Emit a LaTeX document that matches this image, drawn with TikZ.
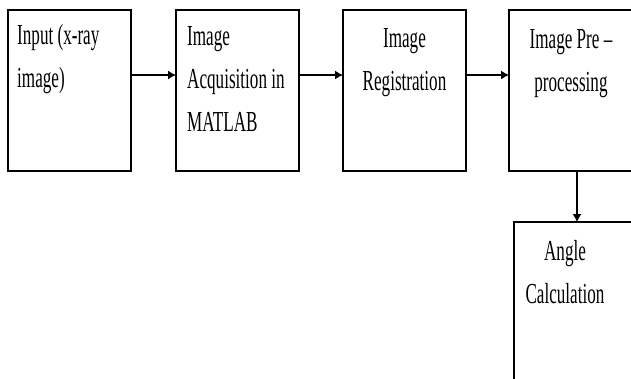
\documentclass[tikz,border=0pt]{standalone}
\usepackage{fontspec}
\setmainfont[FakeStretch=0.59]{Liberation Serif}
\usetikzlibrary{arrows.meta}

\begin{document}
\begin{tikzpicture}[x=1pt, y=-1pt,
    block/.style = {draw, line width=1.3pt, minimum width=123pt, minimum height=161pt,
                    anchor=north west, inner sep=0pt, outer sep=0pt},
    txt/.style   = {font=\fontsize{29}{43}\selectfont, inner sep=0pt},
    flow/.style  = {line width=1.3pt, -{Latex[length=8pt, width=9pt]}}]
    \clip (0,0) rectangle (631,378);
    \pgfmathsetmacro{\topY}{10}  % top edge of the first row
    \coordinate (rowmid) at (0,75);
    \coordinate (drop) at (577,0);
    % blocks
    \node[block] (input) at (8,\topY) {};
    \node[block] (acq) at (176,\topY) {};
    \node[block] (reg) at (343,\topY) {};
    \node[block] (pre) at (509,\topY) {};
    \node[block, minimum height=200pt] (angle) at (514,222) {};
    % texts (anchored on the baseline of their last line)
    \node[txt, anchor=base west, align=left] (inputtxt) at (17,87) {Input (x-ray\\image)};
    \node[txt, anchor=base west, align=left] (acqtxt) at (187,131) {Image\\Acquisition in\\MATLAB};
    \node[txt, anchor=base, align=center] (regtxt) at (404.5,90) {Image\\Registration};
    \node[txt, anchor=base, align=center] (pretxt) at (571,91) {Image Pre –\\processing};
    \node[txt, anchor=base, align=center] (angletxt) at (565,303) {Angle\\Calculation};
    % arrows
    \draw[flow] (input.east |- rowmid) -- (acq.west |- rowmid);
    \draw[flow] (acq.east |- rowmid) -- (reg.west |- rowmid);
    \draw[flow] (reg.east |- rowmid) -- (pre.west |- rowmid);
    \draw[flow] (pre.south -| drop) -- (angle.north -| drop);
\end{tikzpicture}
\end{document}
